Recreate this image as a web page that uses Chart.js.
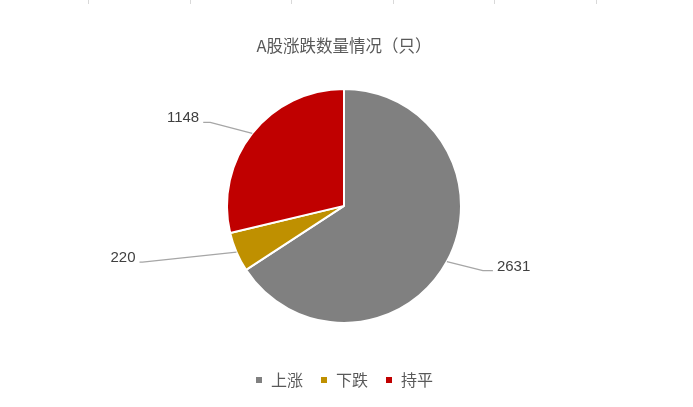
<!DOCTYPE html>
<html lang="zh">
<head>
    <meta charset="UTF-8">
    <title>A股涨跌数量情况</title>
    <script src="https://cdn.jsdelivr.net/npm/chart.js"></script>
    <style>
        html, body {
            margin: 0;
            padding: 0;
            background: #fff;
        }
        .wrap {
            width: 693px;
            height: 407px;
            position: relative;
        }
    </style>
</head>
<body>
    <div class="wrap">
        <canvas id="pieChart" width="693" height="407"></canvas>
    </div>
    <script>
        const categories = ['上涨', '下跌', '持平'];
        const counts = [2631, 220, 1148];
        const sliceColors = ['#808080', '#BF9000', '#C00000'];

        // where each label sits relative to the slice edge: [dx, dy, tail, side]
        const labelOffsets = [
            [36, 9, 10, 'left'],
            [-94, 10, 3, 'right'],
            [-42, -11, 7, 'right']
        ];

        const cjkFont = '"Noto Sans CJK SC", "Noto Sans", sans-serif';

        // faint cell lines along the top edge
        const topTicks = {
            id: 'topTicks',
            beforeDraw(chart) {
                const ctx = chart.ctx;
                ctx.save();
                ctx.strokeStyle = '#d9d9d9';
                ctx.lineWidth = 1;
                [88, 190, 291, 393, 494, 596].forEach(x => {
                    ctx.beginPath();
                    ctx.moveTo(x + 0.5, 0);
                    ctx.lineTo(x + 0.5, 4);
                    ctx.stroke();
                });
                ctx.restore();
            }
        };

        const leaderLabels = {
            id: 'leaderLabels',
            afterDatasetsDraw(chart) {
                const ctx = chart.ctx;
                const meta = chart.getDatasetMeta(0);
                ctx.save();
                meta.data.forEach((arc, i) => {
                    const mid = (arc.startAngle + arc.endAngle) / 2;
                    const ex = arc.x + Math.cos(mid) * arc.outerRadius;
                    const ey = arc.y + Math.sin(mid) * arc.outerRadius;
                    const [dx, dy, tail, side] = labelOffsets[i];
                    const bx = ex + dx;
                    const by = ey + dy;
                    const tx = side === 'left' ? bx + tail : bx - tail;

                    ctx.strokeStyle = '#a6a6a6';
                    ctx.lineWidth = 1.3;
                    ctx.beginPath();
                    ctx.moveTo(ex, ey);
                    ctx.lineTo(bx, by);
                    ctx.lineTo(tx, by);
                    ctx.stroke();

                    ctx.fillStyle = '#404040';
                    ctx.font = '15px "Liberation Sans", "Noto Sans", sans-serif';
                    ctx.textBaseline = 'middle';
                    ctx.textAlign = side;
                    const gap = side === 'left' ? 4 : -4;
                    ctx.fillText(String(counts[i]), tx + gap, by - 4);
                });
                ctx.restore();
            }
        };

        new Chart(document.getElementById('pieChart'), {
            type: 'pie',
            data: {
                labels: categories,
                datasets: [{
                    data: counts,
                    backgroundColor: sliceColors,
                    borderColor: '#ffffff',
                    borderWidth: 2,
                    radius: 117
                }]
            },
            options: {
                responsive: false,
                animation: false,
                layout: {
                    padding: { top: 0, bottom: 9, left: 0, right: 5 }
                },
                plugins: {
                    title: {
                        display: true,
                        text: 'A股涨跌数量情况（只）',
                        color: '#595959',
                        font: { family: cjkFont, size: 16.5, weight: 'normal' },
                        padding: { top: 36, bottom: 1 }
                    },
                    legend: {
                        position: 'bottom',
                        labels: {
                            color: '#595959',
                            font: { family: cjkFont, size: 16 },
                            boxWidth: 8,
                            boxHeight: 8,
                            padding: 17
                        }
                    },
                    tooltip: { enabled: false }
                }
            },
            plugins: [topTicks, leaderLabels]
        });
    </script>
</body>
</html>
